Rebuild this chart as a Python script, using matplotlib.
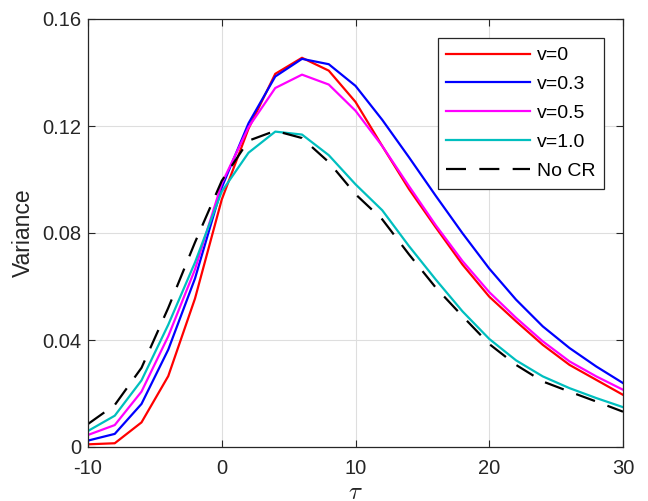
import numpy as np
import matplotlib
matplotlib.use('Agg')
import matplotlib.pyplot as plt

plt.rcParams['font.family'] = ['Liberation Sans', 'DejaVu Sans']
plt.rcParams['mathtext.fontset'] = 'cm'
plt.rcParams['axes.unicode_minus'] = False

tau = [-10, -8, -6, -4, -2, 0, 2, 4, 6, 8, 10, 12, 14, 16, 18, 20, 22, 24, 26, 28, 30]

# v=0
var_v0 = [0.0010, 0.0014, 0.0092, 0.0265, 0.0555, 0.0925, 0.1190, 0.1395, 0.1455, 0.1407, 0.1290,
          0.1125, 0.0964, 0.0821, 0.0682, 0.0562, 0.0470, 0.0382, 0.0307, 0.0251, 0.0195]
# v=0.3
var_v03 = [0.0024, 0.0049, 0.0161, 0.0364, 0.0630, 0.0970, 0.1210, 0.1385, 0.1451, 0.1431, 0.1350,
           0.1223, 0.1083, 0.0939, 0.0799, 0.0667, 0.0551, 0.0451, 0.0370, 0.0301, 0.0239]
# v=0.5
var_v05 = [0.0045, 0.0082, 0.0207, 0.0414, 0.0664, 0.0985, 0.1195, 0.1342, 0.1392, 0.1355, 0.1257,
           0.1125, 0.0975, 0.0829, 0.0695, 0.0579, 0.0483, 0.0395, 0.0320, 0.0264, 0.0214]
# v=1.0
var_v10 = [0.0060, 0.0117, 0.0249, 0.0457, 0.0690, 0.0955, 0.1100, 0.1179, 0.1168, 0.1091, 0.0982,
           0.0885, 0.0751, 0.0626, 0.0507, 0.0404, 0.0324, 0.0264, 0.0220, 0.0183, 0.0149]
# kein CR
var_nocr = [0.0086, 0.0157, 0.0296, 0.0520, 0.0765, 0.0995, 0.1145, 0.1182, 0.1155, 0.1065, 0.0945,
            0.0851, 0.0720, 0.0596, 0.0489, 0.0385, 0.0307, 0.0245, 0.0207, 0.0170, 0.0132]

fig = plt.figure(figsize=(6.48, 5.01), dpi=100)
ax = fig.add_axes([88/648, 54/501, 535/648, 428/501])

ax.plot(tau, var_v0, color=(1, 0, 0), lw=1.6, label='v=0')
ax.plot(tau, var_v03, color=(0, 0, 1), lw=1.6, label='v=0.3')
ax.plot(tau, var_v05, color=(1, 0, 1), lw=1.6, label='v=0.5')
ax.plot(tau, var_v10, color=(0, 0.75, 0.75), lw=1.6, label='v=1.0')
ax.plot(tau, var_nocr, color='k', lw=1.6, ls=(0, (9, 6)), label='No CR')

ax.set_xlim(-10, 30)
ax.set_ylim(0, 0.16)
ax.set_xticks([-10, 0, 10, 20, 30])
ax.set_yticks([0, 0.04, 0.08, 0.12, 0.16])
ax.set_yticklabels(['0', '0.04', '0.08', '0.12', '0.16'])
ax.grid(True, color=(0.87, 0.87, 0.87), lw=0.8)
ax.set_axisbelow(True)

dark = (0.15, 0.15, 0.15)
for s in ax.spines.values():
    s.set_color(dark)
    s.set_linewidth(0.9)
ax.tick_params(direction='in', top=True, right=True, colors=dark, labelsize=14.5, length=5)
ax.tick_params(axis='x', pad=9)
ax.tick_params(axis='y', pad=5)

ax.set_xlabel(r'$\tau$', fontsize=18, color=dark, labelpad=1)
ax.set_ylabel('Variance', fontsize=16.5, color=dark, labelpad=5)

leg = ax.legend(loc='upper right', bbox_to_anchor=(0.9645, 0.9556), borderaxespad=0,
                fancybox=False, framealpha=1, edgecolor=dark, fontsize=14,
                handlelength=4.3, handletextpad=0.35, labelspacing=0.58, borderpad=0.45)
leg.get_frame().set_linewidth(0.9)

fig.savefig('out.png', dpi=100)
